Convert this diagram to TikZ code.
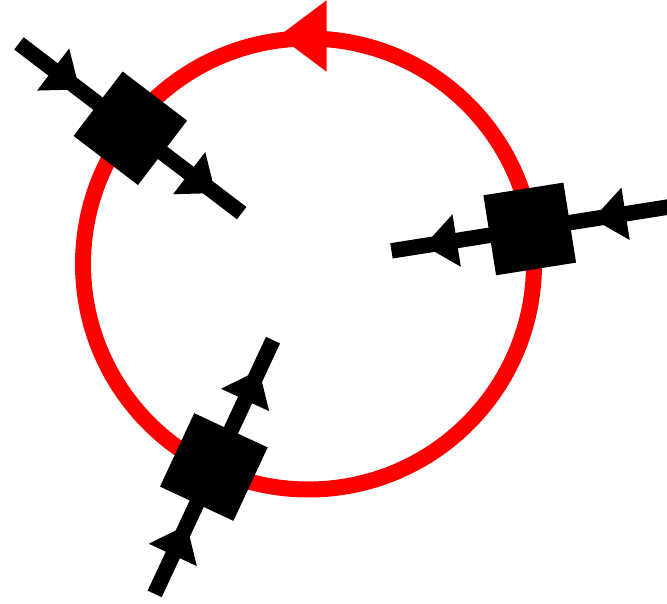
\documentclass[tikz,border=0pt]{standalone}
\usetikzlibrary{decorations.markings}
\begin{document}
\begin{tikzpicture}[x=1pt,y=1pt,
  loopline/.style={draw=red, line width=16pt},
  leg/.style={draw=black, line width=15.5pt,
    postaction={decorate},
    decoration={markings,
      mark=at position 76pt with {\fill[black] (0pt,0pt) -- (-33pt,26.5pt) -- (-33pt,-26.5pt) -- cycle;},
      mark=at position 247pt with {\fill[black] (0pt,0pt) -- (-33pt,26.5pt) -- (-33pt,-26.5pt) -- cycle;}}},
  vx/.style={fill=black, draw=none, minimum size=81pt, inner sep=0pt, outer sep=0pt}]
\useasboundingbox (-308.5,-339) rectangle (358.5,264);
% loop
\path[loopline] (0,0) circle (225.5);
\fill[red] (-29.5,228) -- (18.2,263.8) -- (18.2,192.2) -- cycle;
% legs
\coordinate (o1) at (142.7:364); \coordinate (i1) at (142.7:84);
\coordinate (o2) at (9:364);     \coordinate (i2) at (9:84);
\coordinate (o3) at (245:364);   \coordinate (i3) at (245:84);
\path[leg] (o1) -- (i1);
\path[leg] (o2) -- (i2);
\path[leg] (o3) -- (i3);
% vertices
\node[vx, rotate=142.7] (s1) at (142.7:224) {};
\node[vx, rotate=9] (s2) at (9:224) {};
\node[vx, rotate=245] (s3) at (245:224) {};
\end{tikzpicture}
\end{document}
